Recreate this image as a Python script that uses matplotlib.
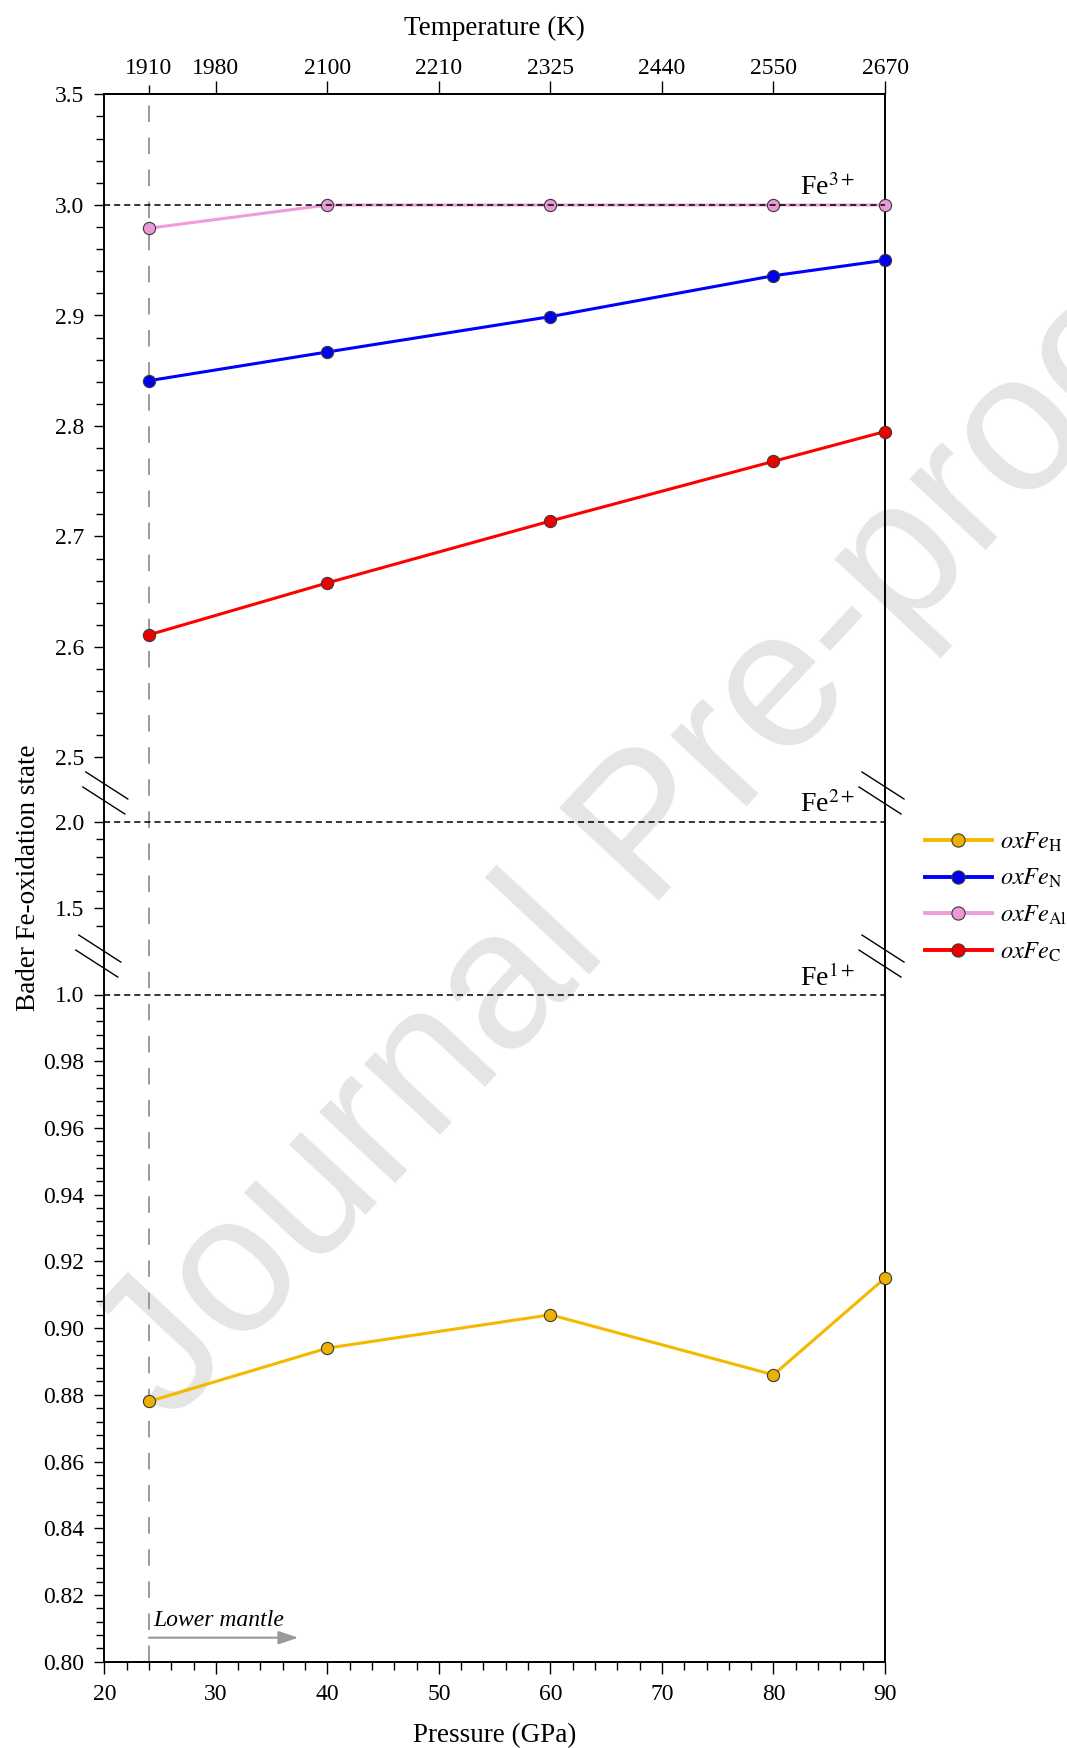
import numpy as np
import matplotlib
matplotlib.use('Agg')
import matplotlib.pyplot as plt
from matplotlib.lines import Line2D

# ---------------- data ----------------
pressure = [24, 40, 60, 80, 90]
ox_fe_h = [0.878, 0.894, 0.904, 0.886, 0.915]
ox_fe_n = [2.841, 2.867, 2.899, 2.936, 2.950]
ox_fe_al = [2.979, 3.000, 3.000, 3.000, 3.000]
ox_fe_c = [2.611, 2.658, 2.714, 2.768, 2.795]

series_names = [r'$\mathit{oxFe}_{\mathrm{H}}$', r'$\mathit{oxFe}_{\mathrm{N}}$',
                r'$\mathit{oxFe}_{\mathrm{Al}}$', r'$\mathit{oxFe}_{\mathrm{C}}$']

temp_pressure = [30, 40, 50, 60, 70, 80, 90]
temp_labels = ['1980', '2100', '2210', '2325', '2440', '2550', '2670']
temp_minor_pressure = [24]
temp_minor_labels = ['1910']

fe_levels = [3.0, 2.0, 1.0]
fe_labels = ['Fe$^{3+}$', 'Fe$^{2+}$', 'Fe$^{1+}$']

lower_mantle_p = 24
lower_mantle_arrow_end = 37.4

y_major = [0.80, 0.82, 0.84, 0.86, 0.88, 0.90, 0.92, 0.94, 0.96, 0.98, 1.0,
           1.5, 2.0, 2.5, 2.6, 2.7, 2.8, 2.9, 3.0, 3.5]
y_major_labels = ['0.80', '0.82', '0.84', '0.86', '0.88', '0.90', '0.92', '0.94',
                  '0.96', '0.98', '1.0', '1.5', '2.0', '2.5', '2.6', '2.7', '2.8',
                  '2.9', '3.0', '3.5']
axis_breaks = [2.225, 1.223]

# ---------------- style ----------------
plt.rcParams['font.family'] = ['Liberation Serif', 'DejaVu Serif']
plt.rcParams['mathtext.fontset'] = 'stix'

W, H = 1067, 1748
fig = plt.figure(figsize=(W / 100, H / 100), dpi=100)
L, R, T, B = 104.3, 885.0, 94.3, 1661.7
ax = fig.add_axes([L / W, 1 - B / H, (R - L) / W, (B - T) / H])
ax.patch.set_visible(False)

# piecewise (broken) y scale
knot_vals = np.array([0.8, 1.0, 1.5, 2.0, 2.5, 3.0, 3.5])
knot_pos = -np.array([1661.7, 994.5, 908.3, 822.0, 757.5, 205.0, 94.3])


def fwd(v):
    return np.interp(np.asarray(v, dtype=float), knot_vals, knot_pos)


def inv(p):
    return np.interp(np.asarray(p, dtype=float), knot_pos, knot_vals)


ax.set_yscale('function', functions=(fwd, inv))
ax.set_xlim(20, 90)
ax.set_ylim(0.8, 3.5)

colors = {
    'H': ('#F5B800', '#EBB000'),
    'N': ('#0000FF', '#0000EE'),
    'Al': ('#EF9BDD', '#EB98D8'),
    'C': ('#FF0000', '#EE0000'),
}
series = [ox_fe_h, ox_fe_n, ox_fe_al, ox_fe_c]
keys = ['H', 'N', 'Al', 'C']
handles = []
for vals, k, name in zip(series, keys, series_names):
    lc, fc = colors[k]
    ax.plot(pressure, vals, color=lc, lw=2.2, marker='o', markersize=8.8,
            markerfacecolor=fc, markeredgecolor='#3a3a3a', markeredgewidth=0.8,
            zorder=5, clip_on=False)
    handles.append(Line2D([], [], color=lc, lw=2.8, marker='o', markersize=9.5,
                          markerfacecolor=fc, markeredgecolor='#3a3a3a',
                          markeredgewidth=0.8, label=name))

# Fe reference levels
for lev, lab in zip(fe_levels, fe_labels):
    ax.axhline(lev, color='black', lw=1.1, ls=(0, (4, 2.6)), zorder=6)
    off = 6.0 if lev == 1.0 else 7.0
    ax.annotate(lab, xy=(82.4, lev), xytext=(0, off), textcoords='offset points',
                fontsize=20, ha='left', va='baseline', zorder=7)

# lower mantle boundary
ax.axvline(lower_mantle_p, color='#9a9a9a', lw=1.4, ls=(0, (8.5, 8)), zorder=2)
ax.annotate('', xy=(lower_mantle_arrow_end, 0.8072), xytext=(lower_mantle_p, 0.8072),
            arrowprops=dict(arrowstyle='-|>,head_length=0.6,head_width=0.2',
                            color='#9a9a9a', lw=1.5, mutation_scale=20,
                            shrinkA=0, shrinkB=0), zorder=3)
ax.text(lower_mantle_p + 0.4, 0.8108, 'Lower mantle', fontsize=17, style='italic',
        ha='left', va='baseline')

# axes styling
for s in ax.spines.values():
    s.set_linewidth(1.4)
ax.set_xticks(np.arange(20, 91, 10))
ax.set_xticks(np.arange(20, 91, 2), minor=True)
ax.set_yticks(y_major, y_major_labels)
minor_y = ([3.1, 3.2, 3.3, 3.4]
           + [round(v, 2) for v in np.arange(2.52, 3.0, 0.02) if round(v, 2) not in (2.6, 2.7, 2.8, 2.9)]
           + [1.9, 1.8, 1.7, 1.6, 1.4]
           + [round(v, 3) for v in np.arange(0.804, 0.9995, 0.004)
              if abs(round(v, 3) * 50 - round(round(v, 3) * 50)) > 1e-6])
ax.set_yticks(minor_y, minor=True)
ax.tick_params(axis='y', which='major', direction='out', length=7.2, width=1.0,
               labelsize=17, pad=7.0)
ax.tick_params(axis='y', which='minor', direction='out', length=5.5, width=1.0)
ax.tick_params(axis='x', which='major', direction='out', length=8.4, width=1.0,
               labelsize=17, pad=8.0)
ax.tick_params(axis='x', which='minor', direction='out', length=5.5, width=1.0)

secax = ax.secondary_xaxis('top')
secax.set_xticks(temp_pressure, temp_labels)
secax.set_xticks(temp_minor_pressure, temp_minor_labels, minor=True)
secax.tick_params(axis='x', which='major', direction='out', length=9.6, width=1.0,
                  labelsize=17, pad=1.2)
secax.tick_params(axis='x', which='minor', direction='out', length=6.5, width=1.0,
                  labelsize=17, pad=4.3)
secax.spines['top'].set_linewidth(1.4)

# axis labels
fig.text(494.6 / W, 1 - 35 / H, 'Temperature (K)', fontsize=19.5, ha='center', va='baseline')
fig.text(494.6 / W, 1 - 1741.7 / H, 'Pressure (GPa)', fontsize=19.5, ha='center', va='baseline')
fig.text(35 / W, 1 - 878 / H, 'Bader Fe-oxidation state', fontsize=19.5, rotation=90,
         rotation_mode='anchor', ha='center', va='baseline')

# axis break marks
fig.canvas.draw()
for yb in axis_breaks:
    _, yd = ax.transData.transform((20, yb))
    for xc in (L + 1.0 if yb > 2 else L - 6.0, R - 3.5):
        for dx, dy in ((1.5, 7.5), (-1.5, -7.5)):
            cx, cy = xc + dx, yd + dy
            fig.add_artist(Line2D([(cx - 21) / W, (cx + 21) / W],
                                  [(cy + 13.5) / H, (cy - 13.5) / H],
                                  transform=fig.transFigure, color='black', lw=1.0,
                                  zorder=8))

# legend
fig.legend(handles=handles, loc='center left', bbox_to_anchor=(925 / W, 1 - 897 / H),
           frameon=False, fontsize=17.5, handlelength=2.75, handletextpad=0.35,
           labelspacing=0.55, borderpad=0, borderaxespad=0)

# watermark
fig.text(170 / W, 1 - 1425 / H, 'Journal Pre-proof', fontsize=142, rotation=47,
         rotation_mode='anchor', ha='left', va='baseline', color='#e5e5e5',
         family=['Liberation Sans', 'DejaVu Sans'], zorder=-1)

fig.savefig('out.png', dpi=100)
